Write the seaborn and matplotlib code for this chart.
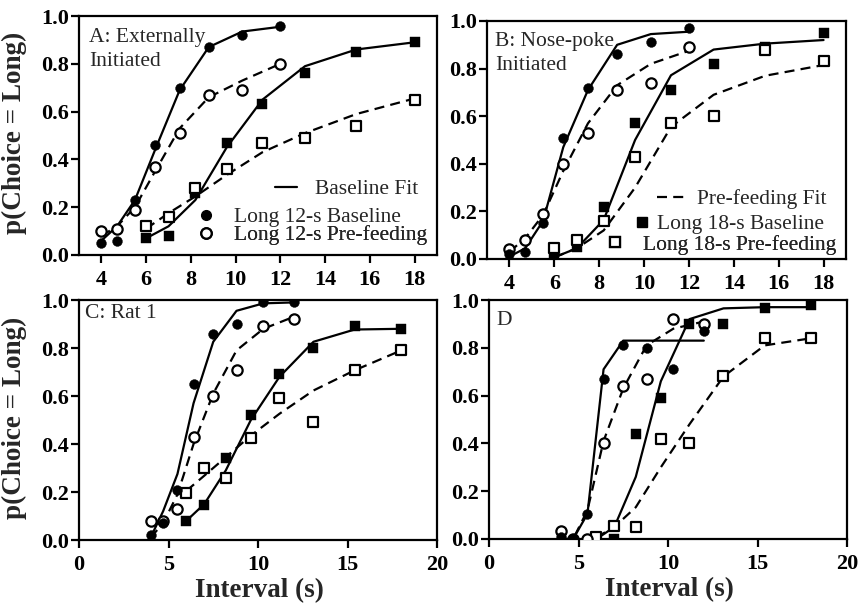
import numpy as np
import pandas as pd
import matplotlib
matplotlib.use("Agg")
import matplotlib.pyplot as plt
from matplotlib.lines import Line2D
import seaborn as sns

# ---------------- data ----------------
x12 = [4.0, 4.7, 5.5, 6.4, 7.5, 8.8, 10.3, 12.0]
x18 = [6.0, 7.0, 8.2, 9.6, 11.2, 13.1, 15.4, 18.0]

# Panel A: Externally initiated
a_base12 = [0.05, 0.06, 0.23, 0.46, 0.70, 0.87, 0.92, 0.96]
a_pre12 = [0.10, 0.11, 0.19, 0.37, 0.51, 0.67, 0.69, 0.80]
a_base18 = [0.07, 0.08, 0.26, 0.47, 0.63, 0.76, 0.85, 0.89]
a_pre18 = [0.12, 0.16, 0.28, 0.36, 0.47, 0.49, 0.54, 0.65]
a_fit_base12 = [0.06, 0.12, 0.23, 0.44, 0.69, 0.87, 0.935, 0.955]
a_fit_pre12 = [0.08, 0.12, 0.20, 0.35, 0.53, 0.66, 0.73, 0.80]
a_fit_base18 = [0.07, 0.12, 0.23, 0.45, 0.65, 0.79, 0.86, 0.89]
a_fit_pre18 = [0.11, 0.175, 0.245, 0.335, 0.43, 0.51, 0.59, 0.655]

# Panel B: Nose-poke initiated
b_base12 = [0.02, 0.03, 0.15, 0.51, 0.72, 0.86, 0.91, 0.97]
b_pre12 = [0.04, 0.08, 0.19, 0.40, 0.53, 0.71, 0.74, 0.89]
b_base18 = [0.01, 0.05, 0.22, 0.57, 0.71, 0.82, 0.89, 0.95]
b_pre18 = [0.045, 0.08, 0.16, 0.43, 0.57, 0.60, 0.88, 0.83]
b_fit_base12 = [0.01, 0.045, 0.16, 0.47, 0.71, 0.90, 0.945, 0.955]
b_fit_pre12 = [0.03, 0.087, 0.185, 0.37, 0.57, 0.73, 0.82, 0.875]
b_fit_base18 = [0.007, 0.045, 0.164, 0.50, 0.772, 0.88, 0.905, 0.92]
b_fit_pre18 = [0.007, 0.045, 0.12, 0.30, 0.555, 0.69, 0.77, 0.815]

# Panel C: Rat 1
c_base12 = [0.02, 0.07, 0.21, 0.65, 0.86, 0.90, 0.99, 0.99]
c_pre12 = [0.08, 0.08, 0.13, 0.43, 0.60, 0.71, 0.89, 0.92]
c_base18 = [0.08, 0.145, 0.34, 0.52, 0.69, 0.80, 0.89, 0.88]
c_pre18 = [0.195, 0.30, 0.26, 0.425, 0.59, 0.49, 0.71, 0.79]
c_fit_base12 = [0.01, 0.12, 0.275, 0.57, 0.826, 0.955, 0.986, 0.99]
c_fit_pre12 = [0.01, 0.07, 0.19, 0.40, 0.61, 0.79, 0.88, 0.93]
c_fit_base18 = [0.08, 0.15, 0.29, 0.50, 0.68, 0.826, 0.877, 0.88]
c_fit_pre18 = [0.205, 0.268, 0.345, 0.435, 0.526, 0.623, 0.707, 0.79]

# Panel D
d_base12 = [0.01, 0.0, 0.105, 0.67, 0.81, 0.80, 0.71, 0.87]
d_pre12 = [0.035, 0.0, 0.0, 0.40, 0.64, 0.67, 0.92, 0.90]
d_base18 = [0.0, 0.0, 0.44, 0.59, 0.90, 0.90, 0.965, 0.98]
d_pre18 = [0.01, 0.053, 0.049, 0.42, 0.40, 0.68, 0.84, 0.84]
d_fit_base12 = [0.0, 0.0, 0.105, 0.71, 0.83, 0.83, 0.83, 0.83]
d_fit_pre12 = [0.0, 0.0, 0.12, 0.41, 0.63, 0.81, 0.88, 0.91]
d_fit_base18 = [0.0, 0.05, 0.26, 0.66, 0.92, 0.965, 0.97, 0.97]
d_fit_pre18 = [0.007, 0.05, 0.133, 0.30, 0.48, 0.68, 0.81, 0.84]

panel_titles = ["A: Externally\nInitiated", "B: Nose-poke\nInitiated", "C: Rat 1", "D"]
y_ticks = [0.0, 0.2, 0.4, 0.6, 0.8, 1.0]
top_x_ticks = [4, 6, 8, 10, 12, 14, 16, 18]
bottom_x_ticks = [0, 5, 10, 15, 20]

# ---------------- style ----------------
sns.set_theme(style="ticks")
plt.rcParams["font.family"] = ["Liberation Serif", "DejaVu Serif"]
plt.rcParams["axes.linewidth"] = 1.6
plt.rcParams["axes.edgecolor"] = "black"

W, H = 860, 609
fig = plt.figure(figsize=(W / 100, H / 100), dpi=100)


def frac(left, top, right, bottom):
    return [left / W, (H - bottom) / H, (right - left) / W, (bottom - top) / H]


axA = fig.add_axes(frac(79, 16, 437, 255))
axB = fig.add_axes(frac(487, 21, 846, 259))
axC = fig.add_axes(frac(79, 300, 437, 540))
axD = fig.add_axes(frac(489, 300, 847, 539))

LW = 1.6
DASH = (0, (4.5, 2.8))


def draw_panel(ax, base12, pre12, base18, pre18, fb12, fp12, fb18, fp18):
    for xs, ys, dashed in [(x12, fb12, False), (x12, fp12, True),
                           (x18, fb18, False), (x18, fp18, True)]:
        sns.lineplot(x=xs, y=ys, ax=ax, color="black", lw=LW,
                     estimator=None, sort=False, legend=False)
        if dashed:
            ax.lines[-1].set_linestyle(DASH)
    # filled squares, open squares, open circles, filled circles
    sns.scatterplot(x=x18, y=base18, ax=ax, marker="s", s=46, color="black",
                    edgecolor="black", linewidth=0.3, zorder=3, legend=False)
    sns.scatterplot(x=x18, y=pre18, ax=ax, marker="s", s=50, color="white",
                    edgecolor="black", linewidth=1.6, zorder=4, legend=False)
    sns.scatterplot(x=x12, y=pre12, ax=ax, marker="o", s=55, color="white",
                    edgecolor="black", linewidth=1.6, zorder=4, legend=False)
    sns.scatterplot(x=x12, y=base12, ax=ax, marker="o", s=50, color="black",
                    edgecolor="black", linewidth=0.3, zorder=5, legend=False)


draw_panel(axA, a_base12, a_pre12, a_base18, a_pre18,
           a_fit_base12, a_fit_pre12, a_fit_base18, a_fit_pre18)
draw_panel(axB, b_base12, b_pre12, b_base18, b_pre18,
           b_fit_base12, b_fit_pre12, b_fit_base18, b_fit_pre18)
draw_panel(axC, c_base12, c_pre12, c_base18, c_pre18,
           c_fit_base12, c_fit_pre12, c_fit_base18, c_fit_pre18)
draw_panel(axD, d_base12, d_pre12, d_base18, d_pre18,
           d_fit_base12, d_fit_pre12, d_fit_base18, d_fit_pre18)

tick_font = dict(fontsize=16, fontweight="bold")
for ax, xt, xl in [(axA, top_x_ticks, (3, 19)), (axB, top_x_ticks, (3, 19)),
                   (axC, bottom_x_ticks, (0, 20)), (axD, bottom_x_ticks, (0, 20))]:
    ax.set_xlim(*xl)
    ax.set_ylim(0, 1.0)
    ax.set_xticks(xt)
    ax.set_xticklabels([str(t) for t in xt], **tick_font)
    ax.set_yticks(y_ticks)
    ax.set_yticklabels([f"{t:.1f}" for t in y_ticks], **tick_font)
    ax.tick_params(axis="both", direction="out", length=6, width=1.6,
                   color="black", labelcolor="black")
    ax.tick_params(axis="x", pad=4.5)
    ax.tick_params(axis="y", pad=1.0)
    for sp in ax.spines.values():
        sp.set_visible(True)
        sp.set_linewidth(1.6)
        sp.set_color("black")
    ax.set_xlabel("")
    ax.set_ylabel("")
    ax.set_facecolor("white")

# panel titles
axA.text(0.029, 0.95, panel_titles[0], transform=axA.transAxes, ha="left",
         va="top", fontsize=15.5, linespacing=1.35)
axB.text(0.022, 0.955, panel_titles[1], transform=axB.transAxes, ha="left",
         va="top", fontsize=15.5, linespacing=1.35)
axC.text(0.017, 0.985, panel_titles[2], transform=axC.transAxes, ha="left",
         va="top", fontsize=15.5)
axD.text(0.022, 0.955, panel_titles[3], transform=axD.transAxes, ha="left",
         va="top", fontsize=15.5)

# axis labels
for ax in (axA, axC):
    ax.set_ylabel("p(Choice = Long)", fontsize=19.5, fontweight="bold")
    ax.yaxis.set_label_coords(-0.145, 0.51)
for ax in (axC, axD):
    ax.set_xlabel("Interval (s)", fontsize=19.5, fontweight="bold")
    ax.xaxis.set_label_coords(0.505, -0.16)

# keys (legends)
FS = 15.5


def key(ax, handle, label, x_px, y_px, hl, pad):
    leg = ax.legend([handle], [label], loc="center left",
                    bbox_to_anchor=(x_px / W, (H - y_px) / H),
                    bbox_transform=fig.transFigure, frameon=False,
                    fontsize=FS, handlelength=hl, handletextpad=pad,
                    borderpad=0, borderaxespad=0, handleheight=0.7)
    ax.add_artist(leg)


solid_h = Line2D([], [], color="black", lw=LW)
dash_h = Line2D([], [], color="black", lw=LW, linestyle=DASH)
fc_h = Line2D([], [], ls="none", marker="o", ms=7, mfc="black", mec="black")
oc_h = Line2D([], [], ls="none", marker="o", ms=7.5, mfc="white", mec="black", mew=1.6)
fs_h = Line2D([], [], ls="none", marker="s", ms=7, mfc="black", mec="black")
os_h = Line2D([], [], ls="none", marker="s", ms=7.5, mfc="white", mec="black", mew=1.6)

key(axA, solid_h, "Baseline Fit", 275, 189, 1.0, 0.84)
key(axA, fc_h, "Long 12-s Baseline", 201, 217, 0.5, 1.05)
key(axA, oc_h, "Long 12-s Pre-feeding", 201, 235, 0.5, 1.05)
key(axB, dash_h, "Pre-feeding Fit", 657, 199, 1.45, 0.42)
key(axB, fs_h, "Long 18-s Baseline", 637, 224, 0.5, 0.45)
key(axB, os_h, "Long 18-s Pre-feeding", 610, 245, 0.5, 1.05)

fig.savefig("out.png", dpi=100, facecolor="white")
